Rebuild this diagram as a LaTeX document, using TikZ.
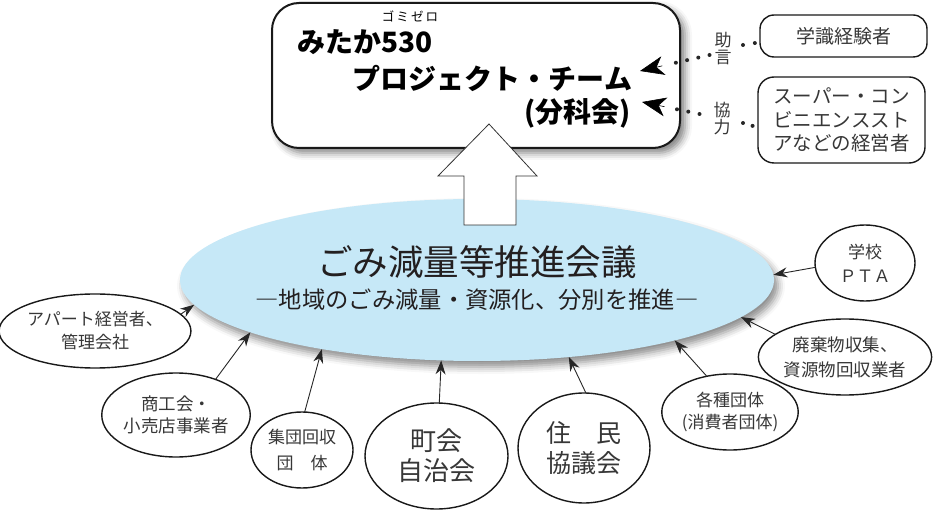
\documentclass[tikz,border=0pt]{standalone}
\usepackage{fontspec}
\setmainfont{Noto Sans CJK JP}
\usetikzlibrary{shapes.geometric,arrows.meta,shadows.blur,calc}
\definecolor{sky}{RGB}{198,232,247}
\definecolor{txt}{RGB}{55,55,55}
\definecolor{ink}{RGB}{35,31,32}
\newcommand\fsz[2]{\fontsize{#1}{#2}\selectfont}
\begin{document}
\begin{tikzpicture}[x=1pt,y=-1pt,
  every node/.style={inner sep=0pt, outer sep=0pt},
  oval/.style={ellipse, draw=black!90, line width=1.4pt, fill=white, text=txt, align=center},
  rbox/.style={draw=black!90, line width=1.4pt, rounded corners=14pt, fill=white, text=txt, align=center},
  arr/.style={line width=0.9pt, draw=black!85, -{Stealth[length=14pt,width=10pt]}},
  dotln/.style={line width=4pt, line cap=round, dash pattern=on 0pt off 11.5pt, draw=black!85},
  bighead/.style={line width=0.6pt, draw=black, -{Stealth[length=24pt,width=19pt,inset=7pt]}},
]
\useasboundingbox (0,0) rectangle (942,510);

% main council ellipse
\node[ellipse, fill=sky, minimum width=594pt, minimum height=162pt,
      blur shadow={shadow xshift=4pt, shadow yshift=-6pt, shadow blur radius=7pt, shadow opacity=45}] (main) at (477,280) {};
\node[text=ink, font=\fsz{35.5}{40}] (mtitle) at (477,262) {ごみ減量等推進会議};
\node[text=ink, font=\fsz{23.3}{26}] (msub) at (477,300) {―地域のごみ減量・資源化、分別を推進―};

% project team box
\node[draw=black!90, line width=2pt, rounded corners=27pt, fill=white,
      minimum width=408pt, minimum height=145pt,
      blur shadow={shadow xshift=5pt, shadow yshift=-5pt, shadow blur radius=7pt, shadow opacity=50}] (team) at (476,75.5) {};
\node[anchor=west, text=black, font=\fsz{28}{30}\bfseries] (t1) at (297,42) {みたか530};
\node[text=black, font=\fsz{12.5}{14}] (ruby) at (410,16) {ゴ\,ミ\,ゼ\,ロ};
\node[anchor=east, text=black, font=\fsz{28}{30}\bfseries] (t2) at (632,78) {プロジェクト・チーム};
\node[anchor=east, text=black, font=\fsz{28}{30}\bfseries] (t3) at (631,113) {(分科会)};

% big up arrow
\draw[fill=white, draw=black!80, line width=0.8pt] (489,124) -- (537,176) -- (516,176) -- (516,225) -- (464,225) -- (464,176) -- (438,176) -- cycle;

% right boxes
\node[rbox, minimum width=167pt, minimum height=42pt, font=\fsz{19}{22}] (ex1) at (843.5,36) {学識経験者};
\node[rbox, rounded corners=16pt, minimum width=167pt, minimum height=86pt, font=\fsz{19.5}{23.5}] (ex2) at (841.5,120) {スーパー・コン\\ビニエンススト\\アなどの経営者};
\node[text=txt, align=center, font=\fsz{17}{17}] (jo) at (723,49) {助\\言};
\node[text=txt, align=center, font=\fsz{17}{17}] (kyo) at (722,119) {協\\力};

\coordinate (tipA) at (640,71);
\coordinate (tipB) at (642,102);
\coordinate (joL) at ($(jo.west)+(-5,6)$);
\coordinate (kyoL) at ($(kyo.west)+(-14,-5)$);
\draw[dotln, shorten >=30pt] (joL) -- (tipA);
\draw[bighead] ($(tipA)!23pt!(joL)$) -- (tipA);
\draw[dotln, shorten >=30pt] (kyoL) -- (tipB);
\draw[bighead] ($(tipB)!23pt!(kyoL)$) -- (tipB);
\draw[dotln, dash pattern=on 0pt off 12pt] ($(jo.east)+(11.5,-4)$) -- ($(ex1.west)+(-5,7)$);
\draw[dotln, dash pattern=on 0pt off 10pt] ($(kyo.east)+(12.5,4)$) -- ($(ex2.west)+(-5,6)$);

% participant ellipses
\node[oval, minimum width=160pt, minimum height=74pt, font=\fsz{17}{23}] (apt) at (95,331) {アパート経営者、\\管理会社};
\node[oval, minimum width=128pt, minimum height=84pt, font=\fsz{17.5}{22}] (shoko) at (176,415) {商工会・\\小売店事業者};
\node[oval, minimum width=102pt, minimum height=76pt, font=\fsz{17}{26}] (shudan) at (302,450) {集団回収\\団　体};
\node[oval, minimum width=143pt, minimum height=106pt, font=\fsz{26}{30}] (chokai) at (436.5,456) {町会\\自治会};
\node[oval, minimum width=132pt, minimum height=110pt, font=\fsz{25}{30}] (jumin) at (584,448) {住　民\\協議会};
\node[oval, minimum width=116pt, minimum height=76pt, font=\fsz{17}{22}] (kakushu) at (730,412) {各種団体\\(消費者団体)};
\node[oval, minimum width=160pt, minimum height=76pt, font=\fsz{17.5}{25}] (haiki) at (845,357) {廃棄物収集、\\資源物回収業者};
\node[oval, minimum width=100pt, minimum height=76pt, font=\fsz{17}{24}] (gakko) at (865,263) {学校\\ＰＴＡ};

\draw[arr] (apt.11) -- (main.185);
\draw[arr] (shoko.42) -- (main.193);
\draw[arr] (shudan.86) -- (main.204);
\draw[arr] (chokai.87) -- (main.246.5);
\draw[arr] (jumin.88) -- (main.320.3);
\draw[arr] (kakushu.123) -- (main.343);
\draw[arr] (haiki.162) -- (main.352);
\draw[arr] (gakko.185) -- (main.1);
\end{tikzpicture}
\end{document}
